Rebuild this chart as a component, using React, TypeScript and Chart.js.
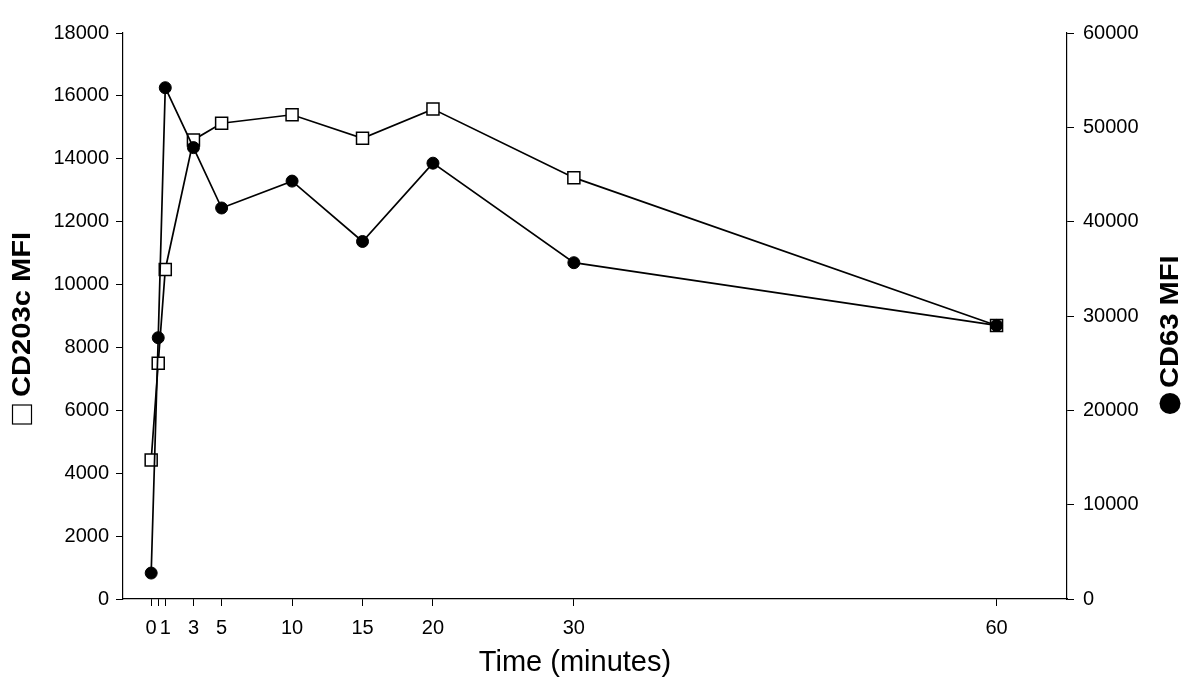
import React, { useEffect, useRef } from 'react';
import { Chart, registerables } from 'chart.js';

Chart.register(...registerables);

// Time points (minutes)
const TIMES = [0, 0.5, 1, 3, 5, 10, 15, 20, 30, 60];
// CD203c MFI (open squares, left axis)
const CD203C = [4420, 7500, 10480, 14600, 15130, 15400, 14650, 15580, 13400, 8700];
// CD63 MFI (filled circles, right axis)
const CD63 = [2750, 27700, 54200, 47850, 41450, 44300, 37900, 46200, 35650, 29000];

const X_TICKS = [0, 0.5, 1, 3, 5, 10, 15, 20, 30, 60];
const X_TICK_LABELS = ['0', '', '1', '3', '5', '10', '15', '20', '30', '60'];
const LEFT_TICKS = [0, 2000, 4000, 6000, 8000, 10000, 12000, 14000, 16000, 18000];
const RIGHT_TICKS = [0, 10000, 20000, 30000, 40000, 50000, 60000];

const X_TITLE = 'Time (minutes)';
const LEFT_TITLE = 'CD203c MFI';
const RIGHT_TITLE = 'CD63 MFI';

const FONT = "'Liberation Sans', Arial, sans-serif";

const titlePlugin = {
  id: 'customTitles',
  afterDraw(chart: any) {
    const ctx = chart.ctx;
    const area = chart.chartArea;
    ctx.save();
    ctx.fillStyle = '#000';
    ctx.strokeStyle = '#000';
    // X title
    ctx.font = `29px ${FONT}`;
    ctx.textAlign = 'center';
    ctx.textBaseline = 'alphabetic';
    ctx.fillText(X_TITLE, (area.left + area.right) / 2 - 20, 671);

    // Left title (rotated, bottom to top) with open-square marker
    ctx.save();
    ctx.translate(22, 0);
    ctx.rotate(-Math.PI / 2);
    ctx.font = `bold 26px ${FONT}`;
    ctx.textAlign = 'left';
    ctx.textBaseline = 'middle';
    ctx.save();
    ctx.scale(1.12, 1);
    ctx.fillText(LEFT_TITLE, -397 / 1.12, 1);
    ctx.restore();
    ctx.lineWidth = 1.2;
    ctx.strokeRect(-424, -9.5, 19, 19);
    ctx.restore();

    // Right title (rotated, bottom to top) with filled-circle marker
    ctx.save();
    ctx.translate(1170, 0);
    ctx.rotate(-Math.PI / 2);
    ctx.font = `bold 26px ${FONT}`;
    ctx.textAlign = 'left';
    ctx.textBaseline = 'middle';
    ctx.save();
    ctx.scale(1.12, 1);
    ctx.fillText(RIGHT_TITLE, -388 / 1.12, 1);
    ctx.restore();
    ctx.beginPath();
    ctx.arc(-403.5, 0, 10.5, 0, Math.PI * 2);
    ctx.fill();
    ctx.restore();

    ctx.restore();
  },
};

export default function App() {
  const canvasRef = useRef<HTMLCanvasElement | null>(null);

  useEffect(() => {
    const canvas = canvasRef.current;
    if (!canvas) return;
    const tickFont = { family: FONT, size: 20 };
    const chart = new Chart(canvas, {
      type: 'line',
      data: {
        datasets: [
          {
            label: 'CD63 MFI',
            data: TIMES.map((t, i) => ({ x: t, y: CD63[i] })),
            yAxisID: 'y1',
            borderColor: '#000',
            borderWidth: 1.7,
            backgroundColor: '#000',
            pointStyle: 'circle',
            pointRadius: 6,
            pointBorderWidth: 1,
            pointBorderColor: '#000',
            pointBackgroundColor: '#000',
            tension: 0,
            fill: false,
          },
          {
            label: 'CD203c MFI',
            data: TIMES.map((t, i) => ({ x: t, y: CD203C[i] })),
            yAxisID: 'y',
            borderColor: '#000',
            borderWidth: 1.7,
            backgroundColor: '#fff',
            pointStyle: 'rect',
            pointRadius: 8.5,
            pointBorderWidth: 1.5,
            pointBorderColor: '#000',
            pointBackgroundColor: '#fff',
            tension: 0,
            fill: false,
          },
        ],
      },
      options: {
        responsive: false,
        animation: false,
        layout: { padding: { top: 33, left: 0, right: 0, bottom: 0 } },
        plugins: {
          legend: { display: false },
          tooltip: { enabled: false },
          title: { display: false },
        },
        scales: {
          x: {
            type: 'linear',
            position: 'bottom',
            min: -2,
            max: 65,
            afterBuildTicks: (scale: any) => {
              scale.ticks = X_TICKS.map((v) => ({ value: v }));
            },
            afterFit: (scale: any) => {
              scale.height = 100;
            },
            ticks: {
              autoSkip: false,
              maxRotation: 0,
              minRotation: 0,
              padding: 10,
              color: '#000',
              font: tickFont,
              callback: (value: any) => {
                const idx = X_TICKS.indexOf(Number(value));
                return idx >= 0 ? X_TICK_LABELS[idx] : '';
              },
            },
            grid: {
              display: true,
              drawOnChartArea: false,
              drawTicks: true,
              tickLength: 7,
              color: '#000',
              lineWidth: 1,
            },
            border: { display: true, color: '#000', width: 1.2 },
          },
          y: {
            type: 'linear',
            position: 'left',
            min: 0,
            max: 18000,
            afterBuildTicks: (scale: any) => {
              scale.ticks = LEFT_TICKS.map((v) => ({ value: v }));
            },
            afterFit: (scale: any) => {
              scale.width = 123;
            },
            ticks: {
              padding: 7,
              color: '#000',
              font: tickFont,
              callback: (value: any) => String(value),
            },
            grid: {
              display: true,
              drawOnChartArea: false,
              drawTicks: true,
              tickLength: 7,
              color: '#000',
              lineWidth: 1,
            },
            border: { display: true, color: '#000', width: 1.2 },
          },
          y1: {
            type: 'linear',
            position: 'right',
            min: 0,
            max: 60000,
            afterBuildTicks: (scale: any) => {
              scale.ticks = RIGHT_TICKS.map((v) => ({ value: v }));
            },
            afterFit: (scale: any) => {
              scale.width = 133;
            },
            ticks: {
              padding: 9,
              color: '#000',
              font: tickFont,
              callback: (value: any) => String(value),
            },
            grid: {
              display: true,
              drawOnChartArea: false,
              drawTicks: true,
              tickLength: 7,
              color: '#000',
              lineWidth: 1,
            },
            border: { display: true, color: '#000', width: 1.2 },
          },
        },
      },
      plugins: [titlePlugin],
    } as any);
    return () => {
      chart.destroy();
    };
  }, []);

  return (
    <div style={{ position: 'absolute', left: 0, top: 0, width: 1200, height: 699, background: '#fff' }}>
      <canvas ref={canvasRef} width={1200} height={699} style={{ display: 'block', width: 1200, height: 699 }} />
    </div>
  );
}
